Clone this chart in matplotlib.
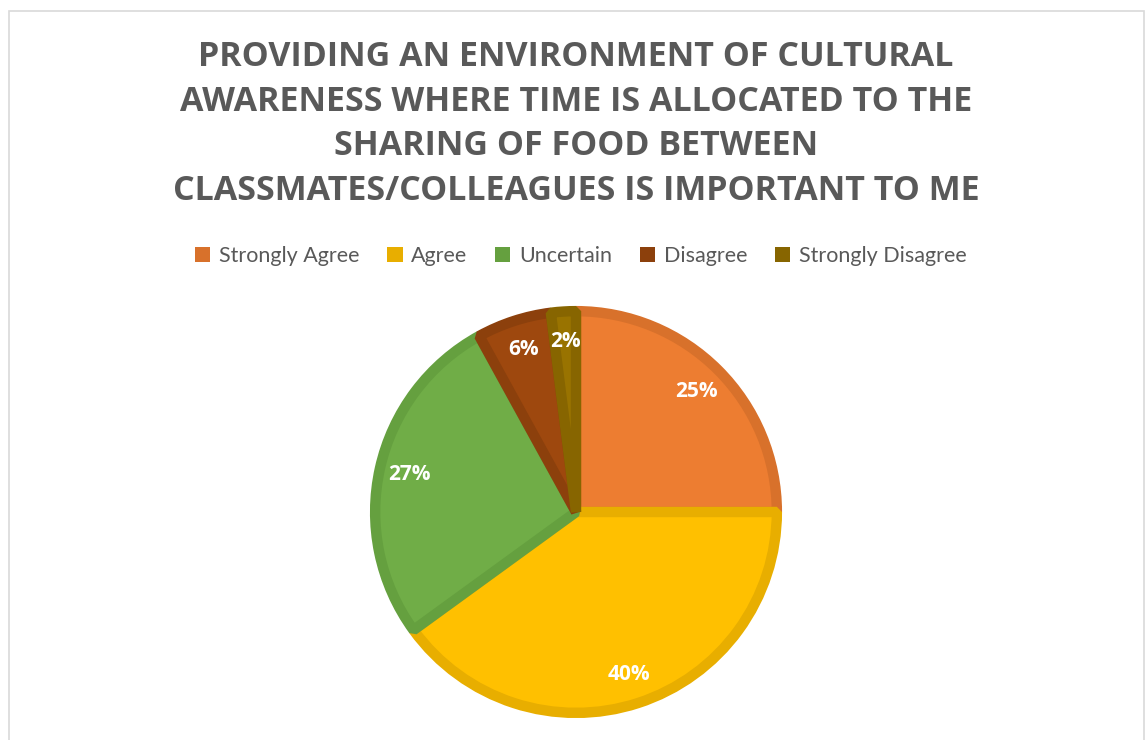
import matplotlib.pyplot as plt
from matplotlib.patches import Rectangle

categories = ["Strongly Agree", "Agree", "Uncertain", "Disagree", "Strongly Disagree"]
values = [25, 40, 27, 6, 2]
fill_colors = ["#ED7D31", "#FFC000", "#70AD47", "#9E480E", "#997300"]
edge_colors = ["#D8712B", "#E8AE00", "#65A03F", "#8C400C", "#876500"]

title = ("PROVIDING AN ENVIRONMENT OF CULTURAL\n"
         "AWARENESS WHERE TIME IS ALLOCATED TO THE\n"
         "SHARING OF FOOD BETWEEN\n"
         "CLASSMATES/COLLEAGUES IS IMPORTANT TO ME")

W, H = 1148, 740
fig = plt.figure(figsize=(W / 100, H / 100), dpi=100)

# light frame around the chart area (bottom runs off the picture)
fig.patches.append(Rectangle((9 / W, -0.05), (1144 - 9) / W, 1.05 - 11 / H,
                             transform=fig.transFigure, fill=False,
                             edgecolor="#D9D9D9", linewidth=1.2))

cx, cy, r = 576, 512, 206
ax = fig.add_axes([(cx - r) / W, (H - cy - r) / H, 2 * r / W, 2 * r / H])

wedges, texts, autotexts = ax.pie(
    values, colors=fill_colors, startangle=90, counterclock=False,
    radius=0.975, autopct="%d%%", pctdistance=0.85,
    wedgeprops=dict(linewidth=7.5),
    textprops=dict(color="white", fontsize=15, fontweight="bold", family="Open Sans"))
for w, ec in zip(wedges, edge_colors):
    w.set_edgecolor(ec)
    w.set_joinstyle("bevel")

ax.set_xlim(-1, 1)
ax.set_ylim(-1, 1)
ax.set_aspect("equal")
ax.axis("off")

fig.text(cx / W, 1 - 40 / H, title, ha="center", va="top", fontsize=24.5,
         fontweight="bold", color="#595959", family="Open Sans", linespacing=1.41)

handles = [Rectangle((0, 0), 1, 1, facecolor=c, edgecolor="none") for c in edge_colors]
fig.legend(handles, categories, loc="center", bbox_to_anchor=(581 / W, 1 - 256 / H),
           ncol=5, frameon=False, handlelength=0.7, handleheight=0.7,
           handletextpad=0.4, columnspacing=1.3,
           prop=dict(family="Lato", size=15.5))
for t in fig.legends[0].get_texts():
    t.set_color("#595959")

fig.savefig("out.png", dpi=100, facecolor="white")
